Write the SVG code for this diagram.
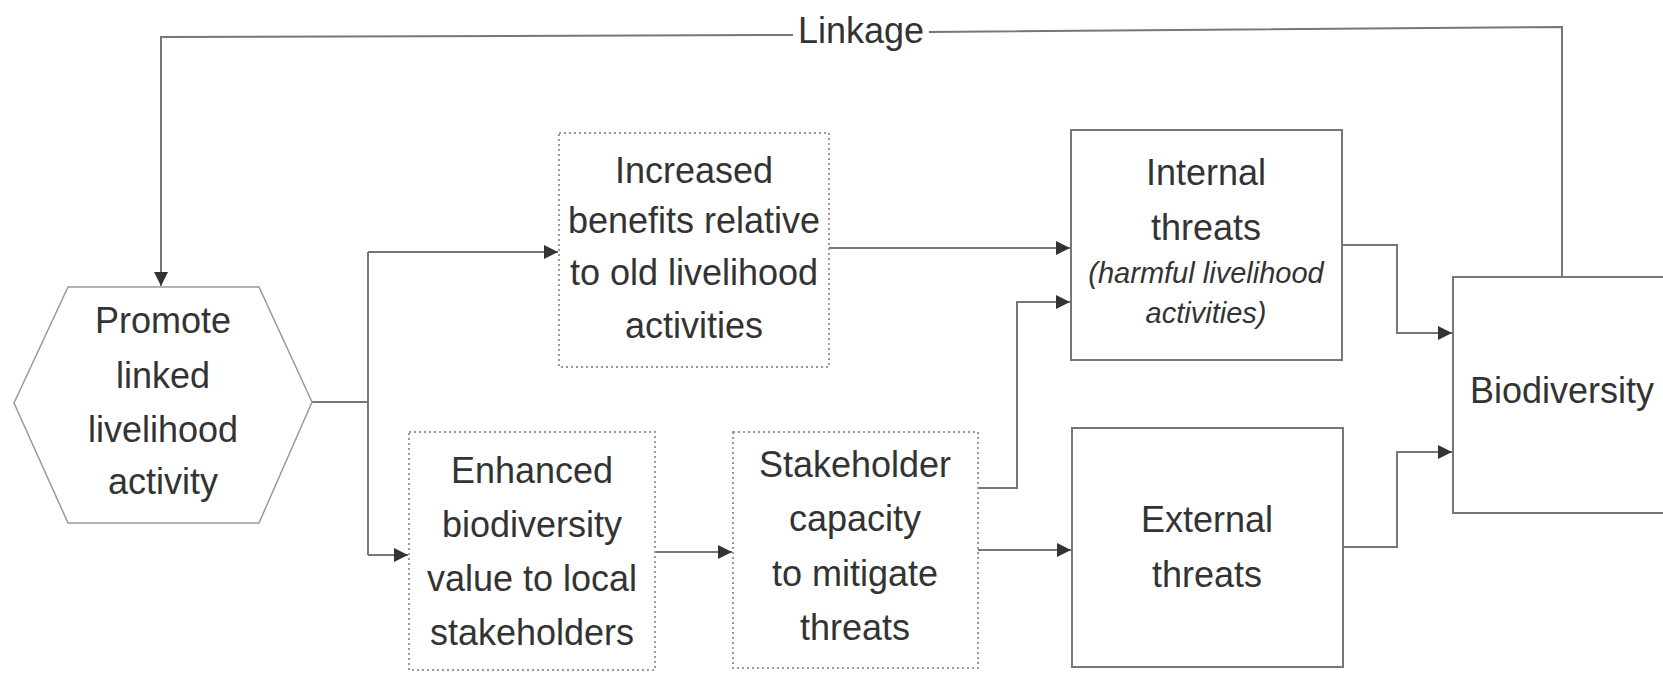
<svg xmlns="http://www.w3.org/2000/svg" width="1663" height="676" viewBox="0 0 1663 676">
<style>
  .t { font-family: "Liberation Sans", Arial, sans-serif; font-size: 36px; fill: #333; text-anchor: middle; }
  .it { font-family: "Liberation Sans", Arial, sans-serif; font-size: 29px; font-style: italic; fill: #333; text-anchor: middle; }
  .dot { fill: #fff; stroke: #9a9a9a; stroke-width: 2; stroke-dasharray: 2 3; }
  .solid { fill: #fff; stroke: #777; stroke-width: 2; }
  .hex { fill: #fff; stroke: #999; stroke-width: 1.5; }
  .c { fill: none; stroke: #777; stroke-width: 2; }
  .ca { fill: none; stroke: #777; stroke-width: 2; marker-end: url(#ah); }
</style>
<defs>
  <marker id="ah" markerUnits="userSpaceOnUse" markerWidth="15" markerHeight="14" refX="14" refY="7" orient="auto">
    <path d="M0,0 L14,7 L0,14 z" fill="#333"/>
  </marker>
</defs>
<rect width="1663" height="676" fill="#fff"/>

<g id="connectors">
  <path class="ca" d="M793,35 L161,37 V286"/>
  <path class="c" d="M1562,277 V27 L929,32"/>
  <path class="c" d="M312,402 H368 M368,252 V555"/>
  <path class="ca" d="M368,252 H558"/>
  <path class="ca" d="M368,555 H408"/>
  <path class="ca" d="M829,248 H1070"/>
  <path class="ca" d="M655,552 H732"/>
  <path class="ca" d="M978,488 H1017 V302 H1070"/>
  <path class="ca" d="M978,550 H1071"/>
  <path class="ca" d="M1342,245 H1397 V333 H1452"/>
  <path class="ca" d="M1343,547 H1397 V452 H1452"/>
  <text class="t" x="861" y="43">Linkage</text>
</g>

<g id="promote">
  <polygon class="hex" points="68,287 259,287 312,402 259,523 68,523 14,403"/>
  <text class="t" x="163" y="333">Promote</text>
  <text class="t" x="163" y="388">linked</text>
  <text class="t" x="163" y="442">livelihood</text>
  <text class="t" x="163" y="494">activity</text>
</g>

<g id="increased">
  <rect class="dot" x="559" y="133" width="270" height="234"/>
  <text class="t" x="694" y="183">Increased</text>
  <text class="t" x="694" y="233">benefits relative</text>
  <text class="t" x="694" y="285">to old livelihood</text>
  <text class="t" x="694" y="338">activities</text>
</g>

<g id="enhanced">
  <rect class="dot" x="409" y="432" width="246" height="238"/>
  <text class="t" x="532" y="483">Enhanced</text>
  <text class="t" x="532" y="537">biodiversity</text>
  <text class="t" x="532" y="591">value to local</text>
  <text class="t" x="532" y="645">stakeholders</text>
</g>

<g id="stakeholder">
  <rect class="dot" x="733" y="432" width="245" height="236"/>
  <text class="t" x="855" y="477">Stakeholder</text>
  <text class="t" x="855" y="531">capacity</text>
  <text class="t" x="855" y="586">to mitigate</text>
  <text class="t" x="855" y="640">threats</text>
</g>

<g id="internal">
  <rect class="solid" x="1071" y="130" width="271" height="230"/>
  <text class="t" x="1206" y="185">Internal</text>
  <text class="t" x="1206" y="240">threats</text>
  <text class="it" x="1206" y="283">(harmful livelihood</text>
  <text class="it" x="1206" y="323">activities)</text>
</g>

<g id="external">
  <rect class="solid" x="1072" y="428" width="271" height="239"/>
  <text class="t" x="1207" y="532">External</text>
  <text class="t" x="1207" y="587">threats</text>
</g>

<g id="biodiversity">
  <rect class="solid" x="1453" y="277" width="230" height="236"/>
  <text class="t" x="1470" y="403" style="text-anchor:start">Biodiversity</text>
</g>
</svg>
